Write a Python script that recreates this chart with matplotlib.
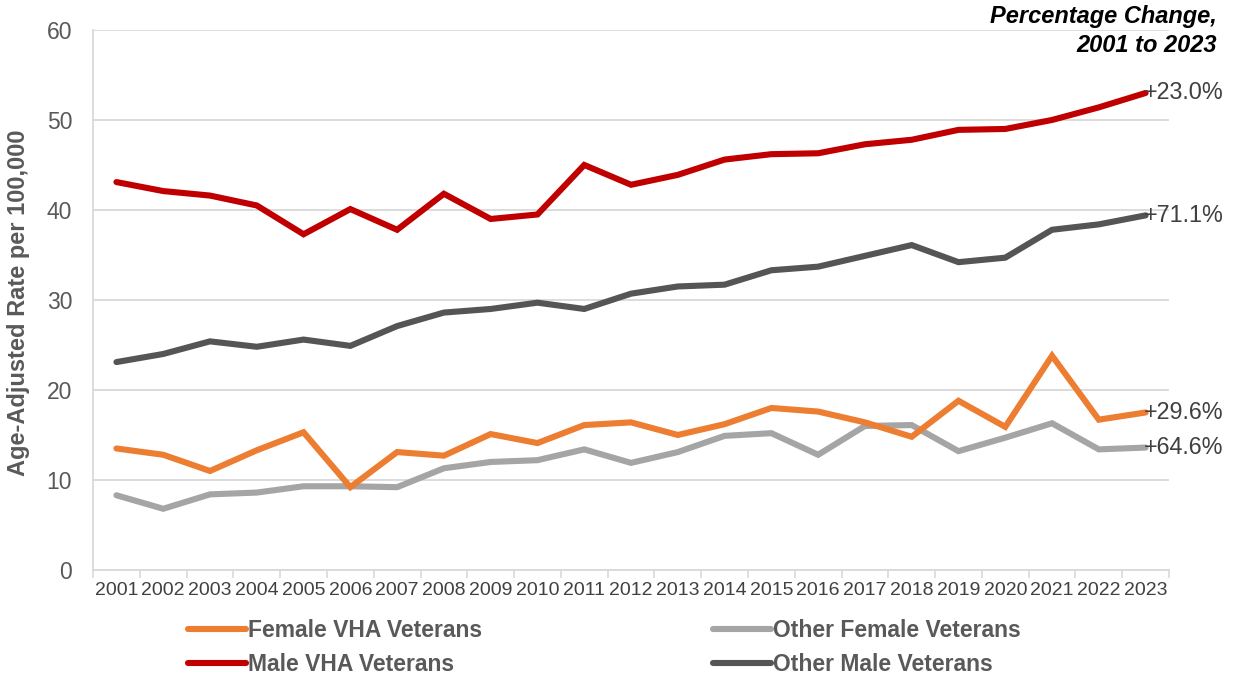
import matplotlib
matplotlib.use("Agg")
import matplotlib.pyplot as plt
import numpy as np

years = [str(y) for y in range(2001, 2024)]
female_vha = [13.5, 12.8, 11.0, 13.3, 15.3, 9.2, 13.1, 12.7, 15.1, 14.1, 16.1, 16.4, 15.0, 16.2, 18.0, 17.6, 16.4, 14.8, 18.8, 15.9, 23.8, 16.7, 17.5]
other_female = [8.3, 6.8, 8.4, 8.6, 9.3, 9.3, 9.2, 11.3, 12.0, 12.2, 13.4, 11.9, 13.1, 14.9, 15.2, 12.8, 16.0, 16.1, 13.2, 14.7, 16.3, 13.4, 13.6]
male_vha = [43.1, 42.1, 41.6, 40.5, 37.3, 40.1, 37.8, 41.8, 39.0, 39.5, 45.0, 42.8, 43.9, 45.6, 46.2, 46.3, 47.3, 47.8, 48.9, 49.0, 50.0, 51.4, 53.0]
other_male = [23.1, 24.0, 25.4, 24.8, 25.6, 24.9, 27.1, 28.6, 29.0, 29.7, 29.0, 30.7, 31.5, 31.7, 33.3, 33.7, 34.9, 36.1, 34.2, 34.7, 37.8, 38.4, 39.4]
pct_labels = {"female_vha": "+29.6%", "other_female": "+64.6%", "male_vha": "+23.0%", "other_male": "+71.1%"}
y_ticks = [0, 10, 20, 30, 40, 50, 60]

plt.rcParams['font.family'] = ['Liberation Sans', 'DejaVu Sans']

fig = plt.figure(figsize=(12.39, 6.75), dpi=100)
ax = fig.add_axes([0.0751, 0.1556, 0.8684, 0.8000])

x = np.arange(len(years))
lw = 4.4
series = [
    ("Female VHA Veterans", female_vha, "#ED7D31", "female_vha"),
    ("Male VHA Veterans", male_vha, "#C00000", "male_vha"),
    ("Other Female Veterans", other_female, "#A5A5A5", "other_female"),
    ("Other Male Veterans", other_male, "#555555", "other_male"),
]
zorders = {"female_vha": 5, "male_vha": 5, "other_female": 4, "other_male": 4}
handles = []
for name, vals, col, key in series:
    h, = ax.plot(x, vals, color=col, lw=lw, solid_capstyle='round', solid_joinstyle='miter', label=name, zorder=zorders[key])
    handles.append(h)
    ax.annotate(pct_labels[key], xy=(x[-1], vals[-1]), xytext=(-1, 0), textcoords='offset points',
                ha='left', va='center', fontsize=16.8, color='#404040', zorder=6)

ax.set_xlim(-0.5, len(years) - 0.5)
ax.set_ylim(0, 60)
ax.set_yticks(y_ticks)
ax.set_xticks(x)
ax.set_xticklabels(years)
ax.set_xticks(np.arange(-0.5, len(years), 1.0), minor=True)
ax.tick_params(axis='x', which='major', length=0, labelsize=14, labelcolor='#404040', pad=9)
ax.tick_params(axis='x', which='minor', length=6, color='#D9D9D9', width=1.2)
ax.tick_params(axis='y', length=0, labelsize=16.5, labelcolor='#595959', pad=15)
ax.grid(axis='y', color='#D9D9D9', lw=1.3, zorder=0)
ax.set_axisbelow(True)
for s in ['top', 'right']:
    ax.spines[s].set_visible(False)
ax.spines['left'].set_color('#D9D9D9')
ax.spines['left'].set_linewidth(1.3)
ax.spines['bottom'].set_color('#D9D9D9')
ax.spines['bottom'].set_linewidth(1.3)
ax.set_ylabel("Age-Adjusted Rate per 100,000", fontsize=17, fontweight='bold', color='#595959')
ax.yaxis.set_label_coords(-0.059, 0.495)

fig.text(0.982, 0.993, "Percentage Change,\n2001 to 2023", ha='right', va='top', fontsize=17,
         fontweight='bold', fontstyle='italic', color='black', linespacing=1.35)

leg = fig.legend(handles=handles, loc='upper left', bbox_to_anchor=(0.152, 0.083), ncol=2,
                 frameon=False, handlelength=2.5, handletextpad=0.1,
                 columnspacing=10.1, labelspacing=0.5, borderaxespad=0, borderpad=0,
                 prop={'family': ['Liberation Sans'], 'weight': 'bold', 'size': 16.5})
for t in leg.get_texts():
    t.set_color('#595959')

fig.savefig("out.png", dpi=100)
